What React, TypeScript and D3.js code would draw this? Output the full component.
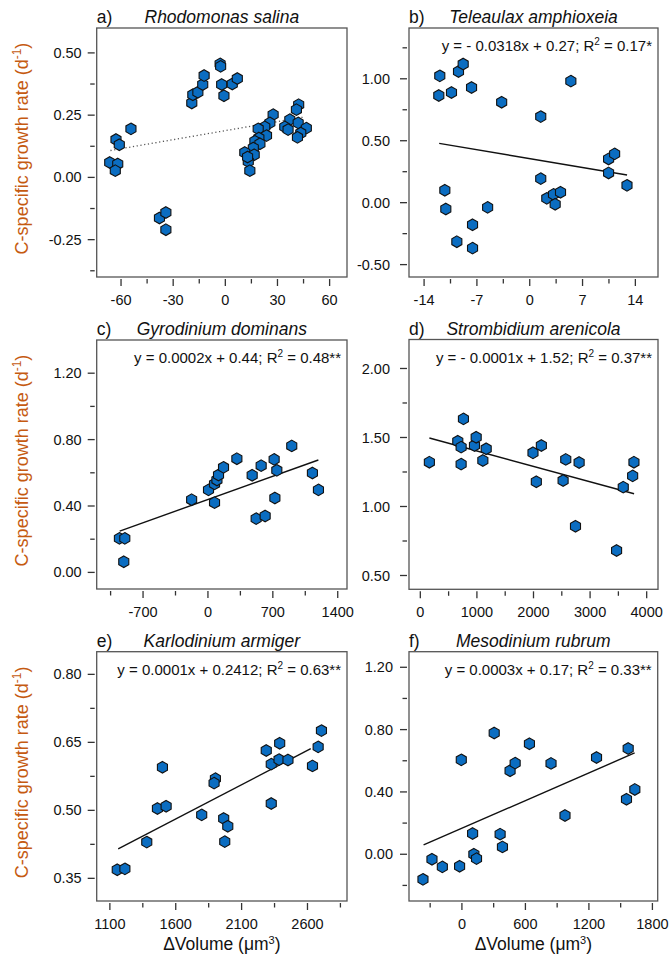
import React from "react";
import * as d3 from "d3";

// ---------- data ----------
const aX = [-54.3, -62.9, -61.0, -66.5, -61.9, -63.3, -37.9, -34.2, -34.2, -19.3, -18.7, -15.8, -13.0, -12.2, -3.0, -2.7, -2.1, -0.8, 4.0, 6.9, 27.5, 25.6, 22.7, 18.9, 23.7, 19.3, 17.0, 19.9, 16.1, 11.2, 16.6, 13.2, 14.1, 12.8, 42.2, 40.9, 37.1, 41.9, 34.2, 36.1, 46.6, 43.4, 41.5];
const aY = [0.195, 0.152, 0.131, 0.060, 0.054, 0.027, -0.163, -0.141, -0.210, 0.299, 0.332, 0.342, 0.373, 0.409, 0.456, 0.446, 0.373, 0.328, 0.375, 0.397, 0.252, 0.219, 0.203, 0.195, 0.168, 0.158, 0.145, 0.135, 0.118, 0.100, 0.091, 0.064, 0.027, 0.082, 0.292, 0.272, 0.232, 0.219, 0.203, 0.192, 0.198, 0.178, 0.161];
const aFitX = [-66.1, 45.7];
const aFitY = [0.108, 0.243];

const bX = [-11.92, -12.05, -10.37, -9.44, -8.82, -7.71, -3.72, 5.45, 1.46, -11.25, -11.12, -5.58, -7.58, -9.66, -7.58, 1.46, 2.26, 3.15, 4.08, 3.37, 10.45, 11.25, 10.45, 12.89];
const bY = [1.024, 0.865, 0.889, 1.059, 1.119, 0.930, 0.811, 0.981, 0.695, 0.100, -0.051, -0.038, -0.178, -0.315, -0.367, 0.194, 0.035, 0.067, 0.084, -0.013, 0.353, 0.394, 0.240, 0.140];
const bFitX = [-12.0, 12.9];
const bFitY = [0.479, 0.223];

const cX = [-955, -897, -908, -176, 6, 71, 71, 97, 114, 168, 312, 477, 574, 520, 617, 714, 743, 722, 904, 1127, 1192];
const cY = [0.205, 0.205, 0.064, 0.438, 0.497, 0.420, 0.533, 0.557, 0.587, 0.633, 0.685, 0.585, 0.643, 0.324, 0.340, 0.681, 0.615, 0.448, 0.762, 0.599, 0.497];
const cFitX = [-952, 1191];
const cFitY = [0.249, 0.677];

const dX = [160, 662, 762, 721, 721, 957, 987, 1164, 1105, 1991, 2139, 2050, 2523, 2570, 2806, 2742, 3468, 3586, 3752, 3775];
const dY = [1.321, 1.473, 1.635, 1.430, 1.307, 1.442, 1.502, 1.418, 1.333, 1.389, 1.442, 1.179, 1.188, 1.341, 1.319, 0.857, 0.681, 1.140, 1.222, 1.321];
const dFitX = [160, 3777];
const dFitY = [1.496, 1.092];

const eX = [1156, 1214, 1380, 1461, 1527, 1499, 1797, 1901, 1891, 1964, 1995, 1972, 2287, 2325, 2325, 2389, 2384, 2452, 2638, 2681, 2706];
const eY = [0.369, 0.371, 0.430, 0.504, 0.509, 0.595, 0.490, 0.570, 0.560, 0.482, 0.465, 0.431, 0.632, 0.515, 0.602, 0.648, 0.612, 0.611, 0.598, 0.640, 0.676];
const eFitX = [1163, 2625];
const eFitY = [0.415, 0.636];

const fX = [-368, -283, -185, -22, -6, 101, 113, 138, 305, 361, 383, 455, 503, 638, 842, 974, 1272, 1571, 1555, 1634];
const fY = [-0.161, -0.032, -0.081, -0.077, 0.606, 0.133, 0.000, -0.028, 0.778, 0.129, 0.047, 0.536, 0.585, 0.709, 0.583, 0.249, 0.621, 0.679, 0.353, 0.416];
const fFitX = [-362, 1632];
const fFitY = [0.06, 0.65];

const panelLetters = ["a)", "b)", "c)", "d)", "e)", "f)"];
const species = ["Rhodomonas salina", "Teleaulax amphioxeia", "Gyrodinium dominans", "Strombidium arenicola", "Karlodinium armiger", "Mesodinium rubrum"];
const equationsPre = ["", "y = - 0.0318x + 0.27; R", "y = 0.0002x + 0.44; R", "y = - 0.0001x + 1.52; R", "y = 0.0001x + 0.2412; R", "y = 0.0003x + 0.17; R"];
const equationsPost = ["", " = 0.17*", " = 0.48**", " = 0.37**", " = 0.63**", " = 0.33**"];

const xDomains = [[-74, 70], [-16, 17], [-1200, 1500], [-200, 4200], [1000, 2900], [-500, 1850]];
const yDomains = [[-0.4, 0.6], [-0.6, 1.41], [-0.1, 1.4], [0.4, 2.21], [0.3, 0.85], [-0.3, 1.3]];
const xMajor = [[-60, -30, 0, 30, 60], [-14, -7, 0, 7, 14], [-700, 0, 700, 1400], [0, 1000, 2000, 3000, 4000], [1100, 1600, 2100, 2600], [0, 600, 1200, 1800]];
const xMinor = [[-45, -15, 15, 45], [-10.5, -3.5, 3.5, 10.5], [-1050, -350, 350, 1050], [500, 1500, 2500, 3500], [1350, 1850, 2350, 2850], [-300, 300, 900, 1500]];
const yMajor = [[0.5, 0.25, 0, -0.25], [1, 0.5, 0, -0.5], [1.2, 0.8, 0.4, 0], [2, 1.5, 1, 0.5], [0.8, 0.65, 0.5, 0.35], [1.2, 0.8, 0.4, 0]];
const yMinor = [[0.375, 0.125, -0.125, -0.375], [1.25, 0.75, 0.25, -0.25], [1.0, 0.6, 0.2], [1.75, 1.25, 0.75], [0.725, 0.575, 0.425], [1.0, 0.6, 0.2, -0.2]];

const seriesX = [aX, bX, cX, dX, eX, fX];
const seriesY = [aY, bY, cY, dY, eY, fY];
const fitXs = [aFitX, bFitX, cFitX, dFitX, eFitX, fFitX];
const fitYs = [aFitY, bFitY, cFitY, dFitY, eFitY, fFitY];

// ---------- layout ----------
const W = 670;
const H = 956;
const frames = [
  { l: 96.7, t: 28, r: 347, b: 277 },
  { l: 409, t: 28, r: 658, b: 277 },
  { l: 96.7, t: 340, r: 347, b: 589 },
  { l: 409, t: 339.5, r: 658, b: 589.3 },
  { l: 96.7, t: 651.7, r: 347, b: 901 },
  { l: 409, t: 651.7, r: 657.7, b: 901 },
];
const yLabelGap = [15, 19, 15, 19, 15, 16];
const FONT = "Arial, 'Liberation Sans', sans-serif";
const FILL = "#0B6DC1";
const YTITLE = "#C55A11";
const HEX_R = 5.8;

function hexPath(cx: number, cy: number, r: number) {
  const pts: [number, number][] = [];
  for (let i = 0; i < 6; i++) {
    const a = (Math.PI / 180) * (60 * i - 90);
    pts.push([cx + r * Math.cos(a), cy + r * Math.sin(a)]);
  }
  return "M" + pts.map((p) => p[0].toFixed(2) + "," + p[1].toFixed(2)).join("L") + "Z";
}

function Panel({ i }: { i: number }) {
  const f = frames[i];
  const x = d3.scaleLinear().domain(xDomains[i]).range([f.l, f.r]);
  const y = d3.scaleLinear().domain(yDomains[i]).range([f.b, f.t]);
  const line = d3
    .line<number>()
    .x((_, k) => x(fitXs[i][k]))
    .y((v) => y(v));
  const cxMid = (f.l + f.r) / 2;
  const cyMid = (f.t + f.b) / 2;
  const isLeft = i % 2 === 0;
  const isBottom = i >= 4;
  return (
    <g>
      <rect x={f.l} y={f.t} width={f.r - f.l} height={f.b - f.t} fill="none" stroke="#555" strokeWidth={1.3} />
      {xMajor[i].map((v) => (
        <g key={"xm" + v}>
          <line x1={x(v)} x2={x(v)} y1={f.b + 2} y2={f.b + 9} stroke="#333" strokeWidth={1.3} />
          <text x={x(v)} y={f.b + 28} textAnchor="middle" fontSize={14.5} fontFamily={FONT} fill="#111">
            {String(v)}
          </text>
        </g>
      ))}
      {xMinor[i].map((v) => (
        <line key={"xn" + v} x1={x(v)} x2={x(v)} y1={f.b + 2} y2={f.b + 6.5} stroke="#333" strokeWidth={1.3} />
      ))}
      {yMajor[i].map((v) => (
        <g key={"ym" + v}>
          <line x1={f.l - 2} x2={f.l - 9} y1={y(v)} y2={y(v)} stroke="#333" strokeWidth={1.3} />
          <text x={f.l - yLabelGap[i]} y={y(v)} dy="0.35em" textAnchor="end" fontSize={14.5} fontFamily={FONT} fill="#111">
            {v.toFixed(2)}
          </text>
        </g>
      ))}
      {yMinor[i].map((v) => (
        <line key={"yn" + v} x1={f.l - 2} x2={f.l - 6.5} y1={y(v)} y2={y(v)} stroke="#333" strokeWidth={1.3} />
      ))}
      <path
        d={line(fitYs[i]) || ""}
        fill="none"
        stroke={i === 0 ? "#555" : "#111"}
        strokeWidth={i === 0 ? 1.3 : 1.4}
        strokeDasharray={i === 0 ? "1.2,2.6" : undefined}
      />
      {seriesX[i].map((v, k) => (
        <path key={k} d={hexPath(x(v), y(seriesY[i][k]), HEX_R)} fill={FILL} stroke="#111" strokeWidth={1.1} />
      ))}
      <text x={f.l} y={f.t - 5} fontSize={17.5} fontFamily={FONT} fill="#111">
        {panelLetters[i]}
      </text>
      <text x={cxMid} y={f.t - 5} textAnchor="middle" fontSize={17.5} fontStyle="italic" fontFamily={FONT} fill="#111">
        {species[i]}
      </text>
      {equationsPre[i] && (
        <text x={f.r - 6} y={f.t + 23} textAnchor="end" fontSize={15} fontFamily={FONT} fill="#111">
          {equationsPre[i]}
          <tspan dy={-6} fontSize={10}>2</tspan>
          <tspan dy={6}>{equationsPost[i]}</tspan>
        </text>
      )}
      {isLeft && (
        <text
          transform={`translate(28,${cyMid - 4}) rotate(-90)`}
          textAnchor="middle"
          fontSize={18}
          fontFamily={FONT}
          fill={YTITLE}
        >
          C-specific growth rate (d
          <tspan dy={-7} fontSize={12}>-1</tspan>
          <tspan dy={7}>)</tspan>
        </text>
      )}
      {isBottom && (
        <text x={cxMid} y={950} textAnchor="middle" fontSize={17.5} fontFamily={FONT} fill="#111">
          ΔVolume (μm
          <tspan dy={-6} fontSize={11}>3</tspan>
          <tspan dy={6}>)</tspan>
        </text>
      )}
    </g>
  );
}

export default function App() {
  return (
    <svg
      width={W}
      height={H}
      viewBox={`0 0 ${W} ${H}`}
      style={{ position: "absolute", left: 0, top: 0, background: "#fff" }}
    >
      <rect x={0} y={0} width={W} height={H} fill="#fff" />
      {[0, 1, 2, 3, 4, 5].map((i) => (
        <Panel key={i} i={i} />
      ))}
    </svg>
  );
}
